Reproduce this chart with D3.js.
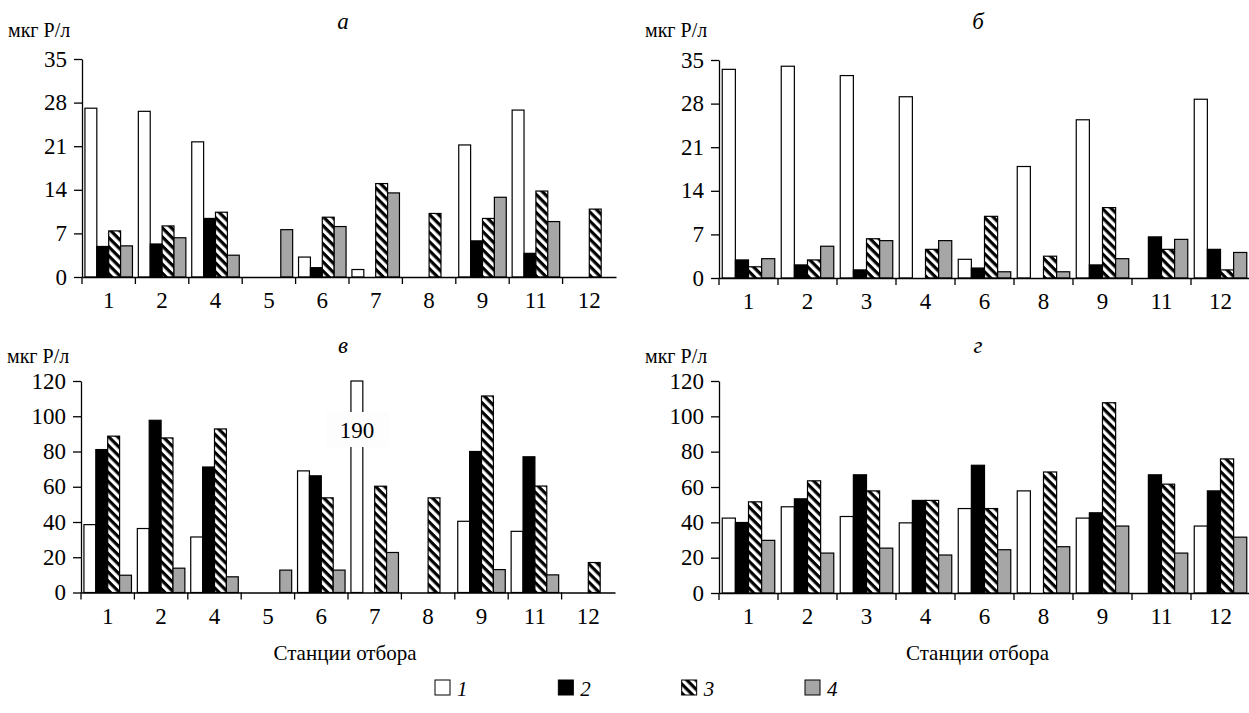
<!DOCTYPE html>
<html><head><meta charset="utf-8">
<script src="https://cdn.jsdelivr.net/npm/d3@7"></script>
<style>
html,body{margin:0;padding:0;background:#fff;}
</style></head>
<body>
<svg id="chart" width="1249" height="713" style="font-family:'Liberation Serif','Tinos','Times New Roman','FreeSerif',serif"></svg>
<script>
// ---- data ----
const seriesKeys = ["1", "2", "3", "4"];
const stationsA = ["1", "2", "4", "5", "6", "7", "8", "9", "11", "12"];
const stationsB = ["1", "2", "3", "4", "6", "8", "9", "11", "12"];
const ticksLow = [0, 7, 14, 21, 28, 35];
const ticksHigh = [0, 20, 40, 60, 80, 100, 120];

// panel а
const aS1 = [27.1, 26.6, 21.7, null, 3.2, 1.2, null, 21.2, 26.8, null];
const aS2 = [4.9, 5.3, 9.4, null, 1.5, null, null, 5.8, 3.8, null];
const aS3 = [7.4, 8.2, 10.4, null, 9.6, 15.0, 10.2, 9.4, 13.8, 10.9];
const aS4 = [5.0, 6.3, 3.5, 7.6, 8.1, 13.5, null, 12.8, 8.9, null];
// panel б
const bS1 = [33.5, 34.0, 32.5, 29.1, 3.0, 17.9, 25.4, null, 28.7];
const bS2 = [2.9, 2.1, 1.3, null, 1.6, null, 2.1, 6.6, 4.6];
const bS3 = [1.8, 2.9, 6.3, 4.6, 9.9, 3.5, 11.3, 4.6, 1.3];
const bS4 = [3.1, 5.1, 6.0, 6.0, 1.0, 1.0, 3.1, 6.2, 4.1];
// panel в
const vS1 = [38.5, 36.3, 31.5, null, 69.0, 190, null, 40.4, 34.7, null];
const vS2 = [81.1, 97.7, 71.2, null, 66.2, null, null, 80.0, 77.0, null];
const vS3 = [88.7, 87.7, 92.8, null, 53.7, 60.3, 53.7, 111.5, 60.4, 17.0];
const vS4 = [9.8, 13.8, 8.9, 12.7, 12.7, 22.7, null, 13.0, 10.0, null];
// panel г
const gS1 = [42.4, 48.8, 43.3, 39.7, 47.8, 57.8, 42.4, null, 37.9];
const gS2 = [39.9, 53.3, 66.9, 52.4, 72.3, null, 45.4, 66.9, 57.8];
const gS3 = [51.6, 63.5, 57.8, 52.4, 47.8, 68.5, 107.7, 61.6, 75.9];
const gS4 = [29.8, 22.6, 25.4, 21.5, 24.5, 26.2, 37.9, 22.6, 31.6];

const unitLabel = "мкг Р/л";
const xTitle = "Станции отбора";

const FAMILY = '"Liberation Serif", Tinos, "Times New Roman", FreeSerif, serif';
const fills = {"1": "#ffffff", "2": "#000000", "3": "url(#hatch)", "4": "#a6a6a6"};

const panels = [
  {title: "а", stations: stationsA, series: [aS1, aS2, aS3, aS4], ticks: ticksLow,
   x0: 82, x1: 616, yTop: 59, yBot: 277, titleX: 343, titleY: 29, unitY: 36.5, showX: false},
  {title: "б", stations: stationsB, series: [bS1, bS2, bS3, bS4], ticks: ticksLow,
   x0: 719, x1: 1250, yTop: 60, yBot: 278, titleX: 978, titleY: 29, unitY: 36.5, showX: false},
  {title: "в", stations: stationsA, series: [vS1, vS2, vS3, vS4], ticks: ticksHigh,
   x0: 81, x1: 615, yTop: 381, yBot: 592.5, titleX: 343, titleY: 353, unitY: 363, showX: true},
  {title: "г", stations: stationsB, series: [gS1, gS2, gS3, gS4], ticks: ticksHigh,
   x0: 719, x1: 1250, yTop: 381, yBot: 593, titleX: 978, titleY: 353, unitY: 363, showX: true}
];

function draw() {
  const svg = d3.select("#chart");
  svg.selectAll("*").remove();

  function T(parent, size, italic) {
    const t = parent.append("text").attr("font-family", FAMILY)
      .style("font-family", FAMILY).attr("font-size", size);
    if (italic) t.style("font-style", "italic");
    return t;
  }

  const defs = svg.append("defs");
  const pat = defs.append("pattern").attr("id", "hatch")
    .attr("patternUnits", "userSpaceOnUse").attr("width", 6.4).attr("height", 6.4)
    .attr("patternTransform", "rotate(45)");
  pat.append("rect").attr("width", 6.4).attr("height", 6.4).attr("fill", "#fff");
  pat.append("rect").attr("width", 6.4).attr("height", 3.2).attr("fill", "#000");

  panels.forEach(p => {
    const g = svg.append("g");
    const x = d3.scaleBand().domain(p.stations).range([p.x0, p.x1]).padding(0);
    const bw = x.bandwidth();
    const pad = bw * 0.055;
    const xs = d3.scaleBand().domain(seriesKeys).range([pad, bw - pad]).padding(0);
    const yMax = d3.max(p.ticks);
    const y = d3.scaleLinear().domain([0, yMax]).range([p.yBot, p.yTop]).clamp(true);

    const rows = [];
    p.stations.forEach((st, i) => {
      seriesKeys.forEach((k, j) => {
        const v = p.series[j][i];
        if (v !== null && v !== undefined) rows.push({st, k, v});
      });
    });
    g.selectAll("rect.bar").data(rows).join("rect").attr("class", "bar")
      .attr("x", d => x(d.st) + xs(d.k))
      .attr("width", xs.bandwidth())
      .attr("y", d => y(d.v))
      .attr("height", d => y(0) - y(d.v))
      .attr("fill", d => fills[d.k])
      .attr("stroke", "#000").attr("stroke-width", 1.2);

    rows.filter(d => d.v > yMax).forEach(d => {
      const cx = x(d.st) + xs(d.k) + xs.bandwidth() / 2;
      const cy = y(yMax) + 49;
      g.append("rect").attr("x", cx - 31).attr("y", cy - 18).attr("width", 63).attr("height", 35)
        .attr("fill", "#fdfdfd");
      T(g, 23).attr("x", cx).attr("y", cy + 8).attr("text-anchor", "middle").text(d.v);
    });

    const ya = g.append("g").attr("transform", `translate(${p.x0},0)`)
      .call(d3.axisLeft(y).tickValues(p.ticks).tickSize(8).tickSizeOuter(0).tickFormat(""));
    ya.attr("font-family", null).attr("font-size", null);
    ya.select(".domain").attr("stroke", "#000").attr("stroke-width", 1.3);
    ya.selectAll(".tick line").attr("stroke", "#000").attr("stroke-width", 1.3);
    ya.selectAll(".tick text").remove();
    p.ticks.forEach(t => {
      T(g, 23).attr("x", p.x0 - 15).attr("y", y(t)).attr("dy", "0.33em")
        .attr("text-anchor", "end").text(t);
    });

    const xa = g.append("g").attr("transform", `translate(0,${p.yBot})`)
      .call(d3.axisBottom(x).tickSize(0).tickSizeOuter(0).tickFormat(""));
    xa.attr("font-family", null).attr("font-size", null);
    xa.select(".domain").attr("stroke", "#000").attr("stroke-width", 1.3);
    xa.selectAll(".tick text").remove();
    p.stations.forEach(st => {
      T(g, 23).attr("x", x(st) + bw / 2).attr("y", p.yBot + 31)
        .attr("text-anchor", "middle").text(st);
    });
    g.selectAll("line.bt").data(p.stations).join("line").attr("class", "bt")
      .attr("x1", d => x(d)).attr("x2", d => x(d))
      .attr("y1", p.yBot).attr("y2", p.yBot + 7)
      .attr("stroke", "#000").attr("stroke-width", 1.3);

    T(svg, 20).attr("x", p.x0 - 74).attr("y", p.unitY).text(unitLabel);
    T(svg, 23, true).attr("x", p.titleX).attr("y", p.titleY)
      .attr("text-anchor", "middle").text(p.title);
    if (p.showX) {
      T(svg, 21).attr("x", (p.x0 + p.x1) / 2 + (p.x0 < 300 ? -3 : -7))
        .attr("y", 660).attr("text-anchor", "middle").text(xTitle);
    }
  });

  const legendX = d3.scalePoint().domain(seriesKeys).range([435, 805]);
  const lg = svg.append("g");
  seriesKeys.forEach(k => {
    const lx = legendX(k);
    lg.append("rect").attr("x", lx).attr("y", 680).attr("width", 15).attr("height", 15)
      .attr("fill", fills[k]).attr("stroke", "#000").attr("stroke-width", 1);
    T(lg, 21, true).attr("x", lx + 22).attr("y", 696).text(k);
  });
}

draw();
if (document.fonts && document.fonts.load) {
  Promise.all([
    document.fonts.load('23px "Liberation Serif"', 'мкг Р/л 0123456789'),
    document.fonts.load('italic 23px "Liberation Serif"', 'абвг1234')
  ]).then(draw).catch(() => {});
}
</script>
</body></html>
